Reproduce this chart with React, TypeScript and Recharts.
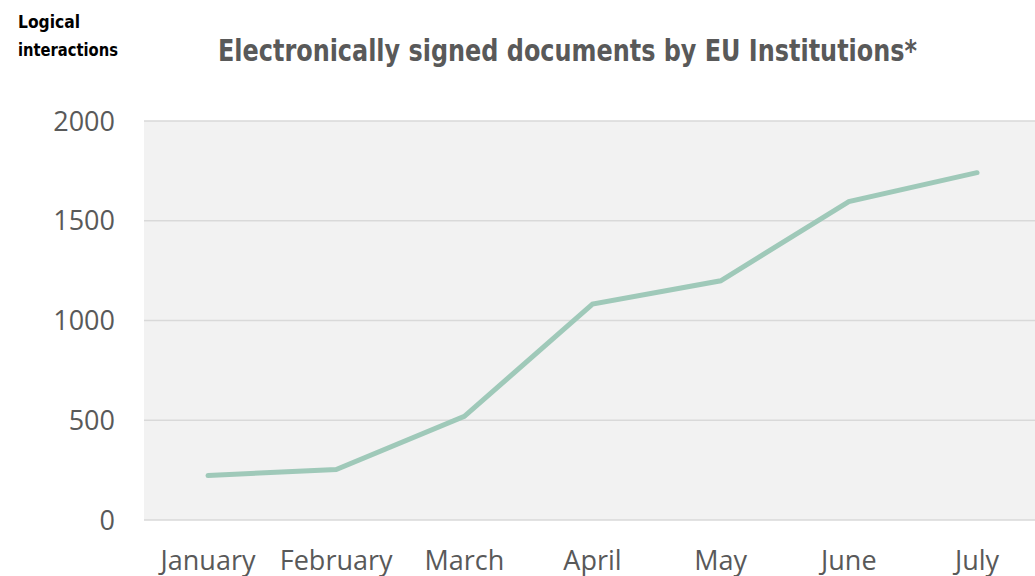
import React from "react";
import { LineChart, Line, XAxis, YAxis, CartesianGrid } from "recharts";

const months = ["January", "February", "March", "April", "May", "June", "July"];
const signedDocs = [223, 253, 520, 1082, 1199, 1596, 1741];
const yTicks = [0, 500, 1000, 1500, 2000];
const titleText = "Electronically signed documents by EU Institutions*";
const yLabelLines = ["Logical", "interactions"];

const data = months.map((m, i) => ({ month: m, value: signedDocs[i] }));

const tickFont = { fontFamily: "'Open Sans', sans-serif", fontSize: 27, fill: "#595959" };

export default function App() {
  return (
    <div style={{ position: "absolute", left: 0, top: 0, width: 1035, height: 576, overflow: "hidden", background: "#fff" }}>
      <LineChart
        width={1041}
        height={576}
        data={data}
        margin={{ top: 121, right: 0, bottom: 6, left: 0 }}
      >
        <CartesianGrid vertical={false} stroke="#D9D9D9" strokeWidth={1.5} fill="#F2F2F2" />
        <XAxis
          dataKey="month"
          axisLine={false}
          tickLine={false}
          tickSize={0}
          tickMargin={31}
          height={50}
          interval={0}
          padding={{ left: 64, right: 64 }}
          tick={tickFont}
        />
        <YAxis
          domain={[0, 2000]}
          ticks={yTicks}
          axisLine={false}
          tickLine={false}
          tickSize={0}
          tickMargin={29}
          width={144}
          tick={tickFont}
        />
        <Line
          type="linear"
          dataKey="value"
          stroke="#9FC9B9"
          strokeWidth={5}
          strokeLinecap="round"
          dot={false}
          activeDot={false}
          isAnimationActive={false}
        />
      </LineChart>
      <svg width={1035} height={110} style={{ position: "absolute", left: 0, top: 0 }}>
        <text
          x={218}
          y={61}
          textLength={699}
          lengthAdjust="spacingAndGlyphs"
          style={{ fontFamily: "'Liberation Sans Narrow', 'DejaVu Sans Condensed', sans-serif", fontWeight: 700, fontSize: 31, fill: "#595959" }}
        >
          {titleText}
        </text>
        {yLabelLines.map((line, i) => (
          <text
            key={line}
            x={18}
            y={28 + i * 28}
            textLength={i === 1 ? 100 : 62}
            lengthAdjust="spacingAndGlyphs"
            style={{ fontFamily: "'Liberation Sans Narrow', 'DejaVu Sans Condensed', sans-serif", fontWeight: 700, fontSize: 18, fill: "#000" }}
          >
            {line}
          </text>
        ))}
      </svg>
    </div>
  );
}
